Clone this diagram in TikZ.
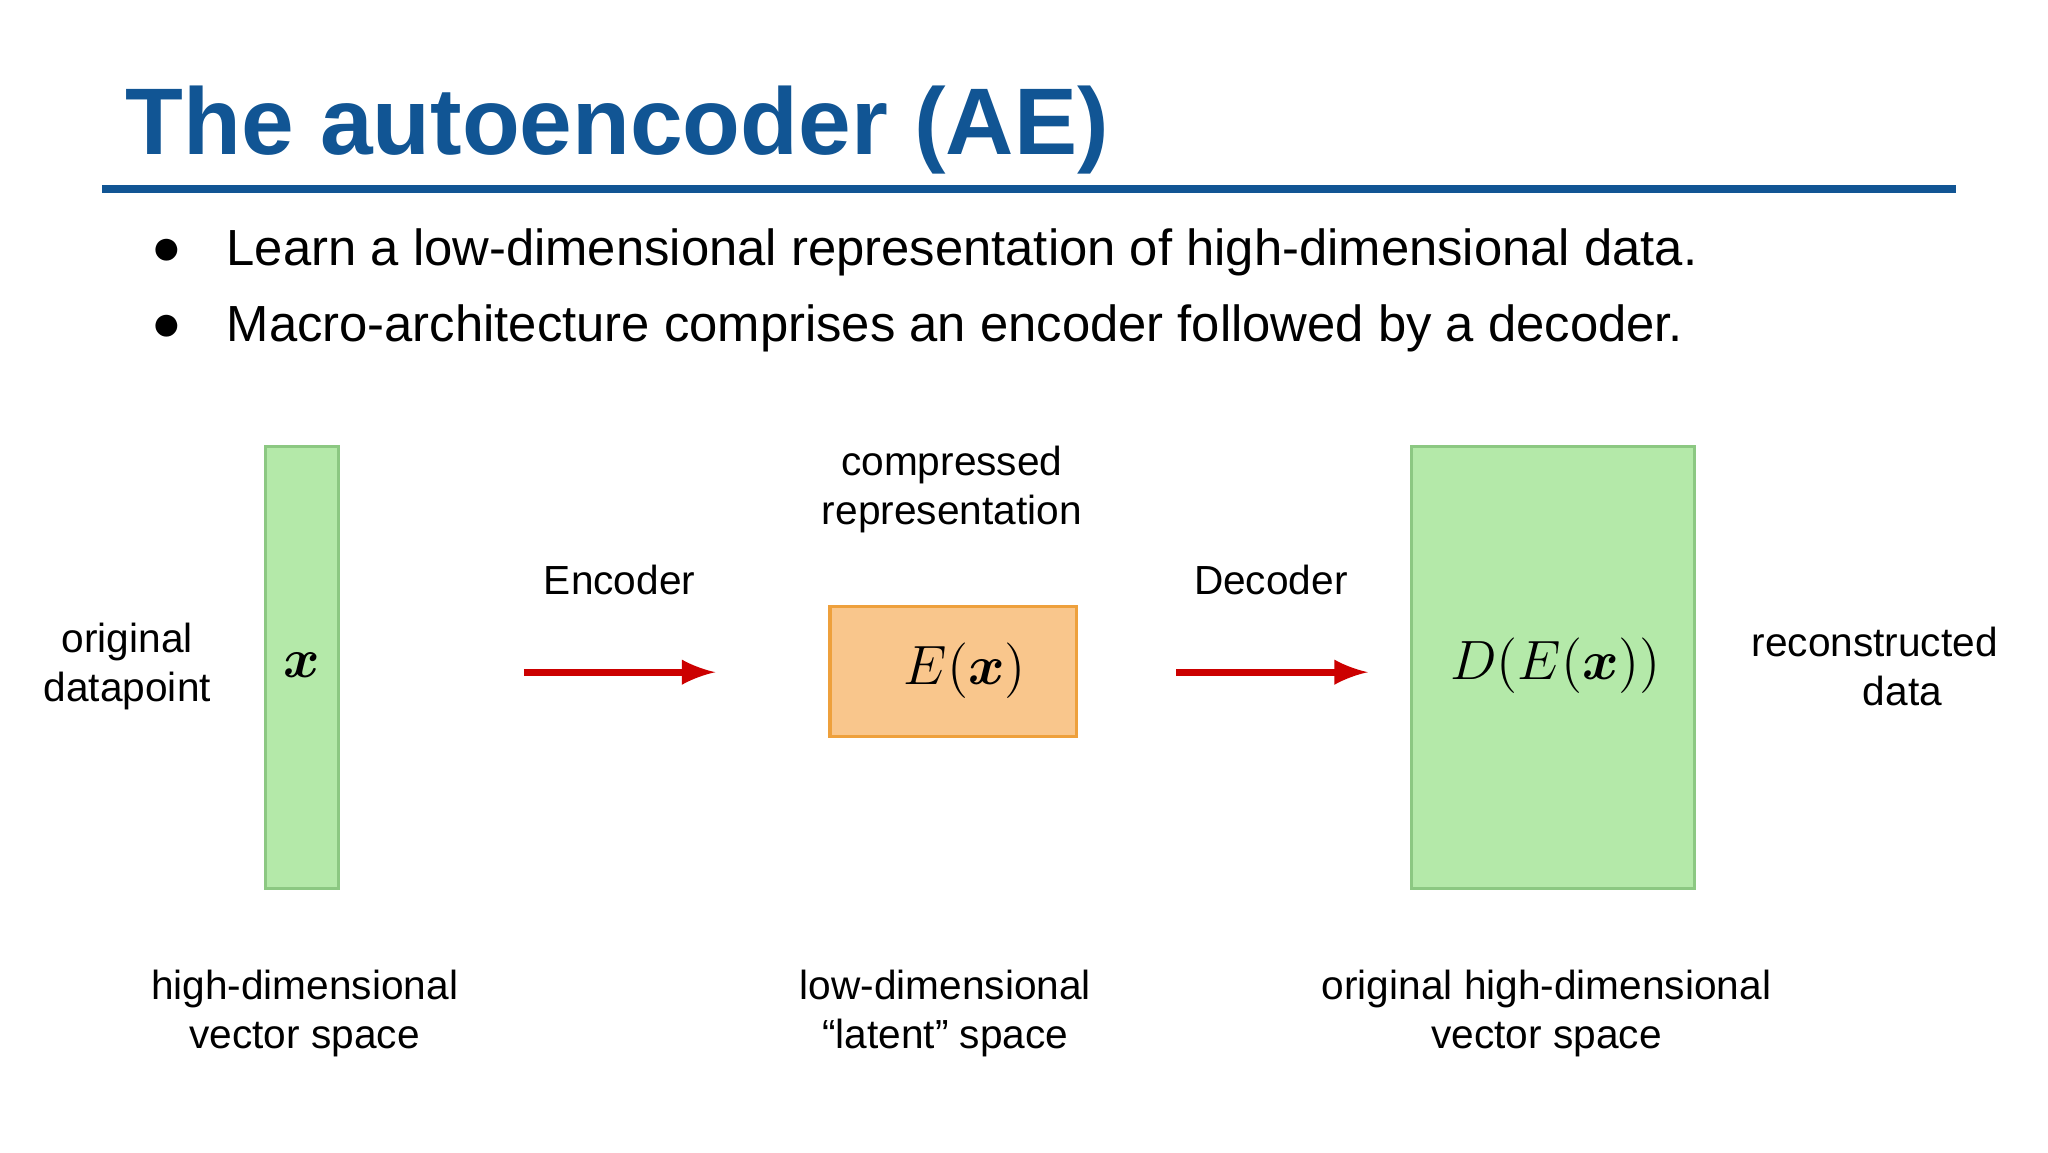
\documentclass[tikz,border=0pt]{standalone}
\usepackage{amsmath}
\usepackage{fontspec}
\setmainfont{Liberation Sans}
\newfontfamily\plainsans{Liberation Sans}
\begin{document}
\begin{tikzpicture}[x=0.01cm,y=-0.01cm,
  lbl/.style={font=\fontsize{8.8}{10.6}\selectfont,align=center,inner sep=0},
  bul/.style={font=\fontsize{11}{13}\selectfont,anchor=west,inner sep=0},
  arr/.style={draw=red!80!black,line width=1.5pt,-latex}]
\useasboundingbox (0,0) rectangle (1560,877.5);
\fill[white] (0,0) rectangle (1560,877.5);
\definecolor{tblue}{RGB}{17,85,148}
\definecolor{gfill}{RGB}{180,233,169}
\definecolor{gline}{RGB}{140,200,130}
\definecolor{ofill}{RGB}{249,198,140}
\definecolor{oline}{RGB}{238,160,60}
\node[anchor=base west,inner sep=0,text=tblue,font=\fontsize{20.5}{24}\selectfont\bfseries] (title) at (95,118) {The autoencoder (AE)};
\fill[tblue] (78,141) rectangle (1490,147);
\node[bul] (b1d) at (115,192) {●};
\node[bul] (b1) at (172,192) {Learn a low-dimensional representation of high-dimensional data.};
\node[bul] (b2d) at (115,250) {●};
\node[bul] (b2) at (172,250) {Macro-architecture comprises an encoder followed by a decoder.};
\draw[gline,fill=gfill,line width=0.6pt] (202,340) rectangle (258,677);
\node[font=\fontsize{13}{15}\selectfont] (xlab) at (230,507) {$\boldsymbol{x}$};
\draw[oline,fill=ofill,line width=0.8pt] (632,462) rectangle (820,561);
\node[font=\fontsize{13}{15}\selectfont] (elab) at (735,511) {$E(\boldsymbol{x})$};
\draw[gline,fill=gfill,line width=0.6pt] (1075,340) rectangle (1291,677);
\node[font=\fontsize{13}{15}\selectfont] (dlab) at (1185,507) {$D(E(\boldsymbol{x}))$};
\coordinate (a1s) at (399,512); \coordinate (a1e) at (545,512);
\coordinate (a2s) at (896,512); \coordinate (a2e) at (1042,512);
\draw[arr] (a1s) -- (a1e);
\draw[arr] (a2s) -- (a2e);
\node[lbl] (encl) at (472,442) {Encoder};
\node[lbl] (decl) at (968,442) {Decoder};
\node[lbl] (comp) at (725,373) {compressed\\representation};
\node[lbl] (orig) at (97,508) {original\\datapoint};
\node[lbl] (rec) at (1428,508) {reconstructed\\\hspace*{12pt}data};
\node[lbl] (s1) at (232,772) {high-dimensional\\vector space};
\node[lbl] (s2) at (720,772) {\plainsans low-dimensional\\“latent" space};
\node[lbl] (s3) at (1178,772) {original high-dimensional\\vector space};
\end{tikzpicture}
\end{document}
